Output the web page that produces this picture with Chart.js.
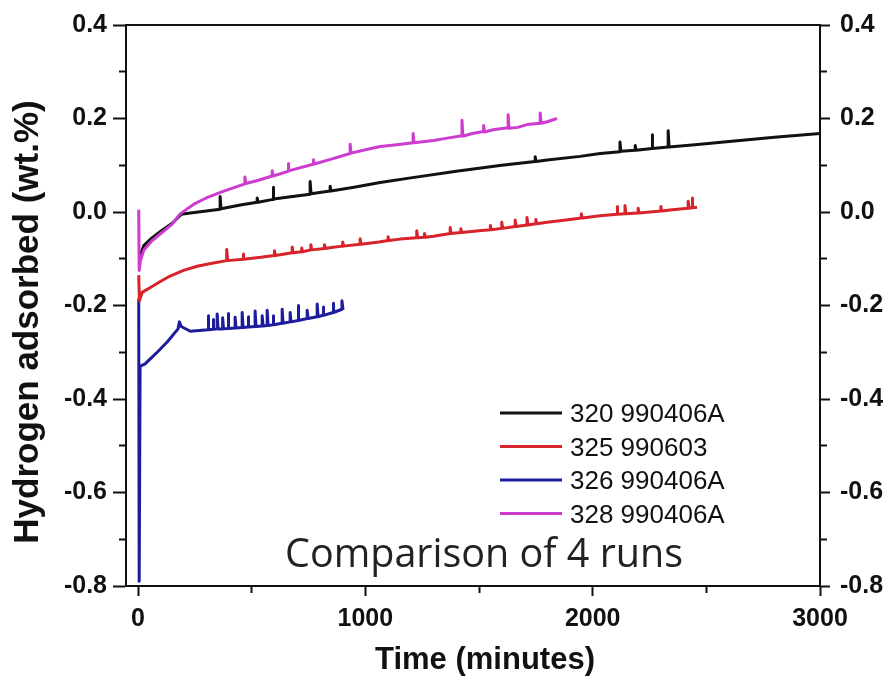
<!DOCTYPE html>
<html>
<head>
<meta charset="utf-8">
<script src="https://cdn.jsdelivr.net/npm/chart.js@4.4.1/dist/chart.umd.min.js"></script>
<style>
  html, body { margin: 0; padding: 0; background: #fff; }
  #wrap { width: 889px; height: 681px; }
</style>
</head>
<body>
<div id="wrap"><canvas id="c" width="889" height="681"></canvas></div>
<script>
/* Hydrogen adsorbed vs time, 4 runs */

// axis ticks
const xTicks  = [0, 500, 1000, 1500, 2000, 2500, 3000];
const xLabels = ['0', '', '1000', '', '2000', '', '3000'];
const yTicks  = [-0.8, -0.7, -0.6, -0.5, -0.4, -0.3, -0.2, -0.1, 0.0, 0.1, 0.2, 0.3, 0.4];
const yLabels = ['-0.8', '', '-0.6', '', '-0.4', '', '-0.2', '', '0.0', '', '0.2', '', '0.4'];

const seriesNames = ['320 990406A', '325 990603', '326 990406A', '328 990406A'];

// [time (min), wt.%] — 320 990406A (black)
const run320 = [
  [10, -0.092], [25, -0.072], [60, -0.056], [100, -0.041], [150, -0.024], [190, -0.005], [230, -0.002], [300, 0.002],
  [361, 0.006], [361, 0.033], [365, 0.007], [450, 0.015],
  [524, 0.021], [524, 0.030], [528, 0.021],
  [594, 0.027], [594, 0.053], [598, 0.028], [680, 0.033],
  [757, 0.038], [757, 0.065], [761, 0.039],
  [845, 0.045], [845, 0.055], [849, 0.045],
  [950, 0.053], [1065, 0.063], [1200, 0.073], [1400, 0.087], [1600, 0.100],
  [1747, 0.108], [1747, 0.118], [1751, 0.108], [1800, 0.111], [1945, 0.119], [2033, 0.125],
  [2120, 0.129], [2120, 0.150], [2124, 0.130],
  [2187, 0.132], [2187, 0.142], [2191, 0.132],
  [2261, 0.136], [2261, 0.165], [2265, 0.136],
  [2332, 0.139], [2332, 0.174], [2336, 0.139],
  [2450, 0.144], [2600, 0.151], [2800, 0.160], [3000, 0.168]
];

// 325 990603 (red)
const run325 = [
  [3, -0.135], [6, -0.190], [18, -0.172], [60, -0.160], [100, -0.148], [141, -0.137], [200, -0.125], [260, -0.116], [320, -0.110],
  [390, -0.104], [390, -0.080], [394, -0.104],
  [462, -0.101], [462, -0.090], [466, -0.101], [540, -0.097],
  [600, -0.093], [600, -0.083], [604, -0.093],
  [678, -0.087], [678, -0.075], [682, -0.087],
  [720, -0.085], [720, -0.077], [724, -0.085],
  [760, -0.081], [760, -0.070], [764, -0.081],
  [820, -0.078], [820, -0.070], [824, -0.078], [850, -0.076],
  [900, -0.073], [900, -0.064], [904, -0.073],
  [977, -0.069], [977, -0.057], [981, -0.069], [1060, -0.064],
  [1100, -0.061], [1100, -0.053], [1104, -0.061], [1153, -0.058],
  [1226, -0.055], [1226, -0.040], [1230, -0.055],
  [1260, -0.054], [1260, -0.046], [1264, -0.054], [1300, -0.052],
  [1373, -0.046], [1373, -0.033], [1377, -0.046],
  [1420, -0.044], [1420, -0.036], [1424, -0.044], [1500, -0.040],
  [1550, -0.038], [1550, -0.029], [1554, -0.038],
  [1600, -0.035], [1600, -0.022], [1604, -0.035],
  [1659, -0.031], [1659, -0.017], [1663, -0.031],
  [1711, -0.028], [1711, -0.012], [1715, -0.028],
  [1750, -0.025], [1750, -0.016], [1754, -0.025], [1800, -0.022], [1900, -0.016],
  [1950, -0.013], [1950, -0.004], [1954, -0.013], [2033, -0.008],
  [2107, -0.005], [2107, 0.012], [2111, -0.005],
  [2142, -0.004], [2142, 0.014], [2146, -0.004],
  [2200, -0.002], [2200, 0.008], [2204, -0.002], [2253, 0.000],
  [2300, 0.002], [2300, 0.012], [2304, 0.002], [2350, 0.005],
  [2420, 0.008], [2420, 0.023], [2424, 0.008],
  [2437, 0.009], [2437, 0.030], [2441, 0.009], [2459, 0.010]
];

// 326 990406A (blue)
const run326 = [
  [3, -0.185], [5, -0.790], [9, -0.330], [31, -0.325], [80, -0.302], [130, -0.277], [176, -0.250], [182, -0.235], [190, -0.245], [230, -0.255],
  [308, -0.252], [308, -0.222], [312, -0.252],
  [330, -0.251], [330, -0.230], [334, -0.251],
  [348, -0.250], [348, -0.218], [352, -0.250],
  [372, -0.250], [372, -0.226], [376, -0.250],
  [396, -0.249], [396, -0.217], [400, -0.249],
  [427, -0.248], [427, -0.225], [431, -0.248],
  [458, -0.247], [458, -0.215], [462, -0.247],
  [484, -0.246], [484, -0.224], [488, -0.246],
  [515, -0.245], [515, -0.212], [519, -0.245],
  [546, -0.244], [546, -0.222], [550, -0.244],
  [568, -0.243], [568, -0.210], [572, -0.243],
  [594, -0.241], [594, -0.222], [598, -0.241],
  [634, -0.238], [634, -0.208], [638, -0.238],
  [669, -0.235], [669, -0.215], [673, -0.235],
  [704, -0.232], [704, -0.200], [708, -0.232],
  [744, -0.228], [744, -0.210], [748, -0.228],
  [788, -0.224], [788, -0.197], [792, -0.224],
  [814, -0.221], [814, -0.203], [818, -0.221],
  [858, -0.215], [858, -0.195], [862, -0.215],
  [897, -0.208], [897, -0.190], [901, -0.207], [905, -0.205]
];

// 328 990406A (magenta)
const run328 = [
  [3, 0.005], [5, -0.125], [10, -0.105], [25, -0.082], [60, -0.062], [100, -0.046], [150, -0.026], [185, -0.004],
  [250, 0.018], [300, 0.030], [374, 0.044],
  [470, 0.060], [470, 0.075], [474, 0.061], [530, 0.068],
  [590, 0.077], [590, 0.088], [594, 0.077],
  [660, 0.087], [660, 0.104], [664, 0.088],
  [770, 0.102], [770, 0.112], [774, 0.102], [850, 0.113],
  [933, 0.125], [933, 0.145], [937, 0.126], [1000, 0.133], [1065, 0.140], [1139, 0.144],
  [1210, 0.148], [1210, 0.168], [1214, 0.148], [1300, 0.153], [1360, 0.158],
  [1425, 0.163], [1425, 0.196], [1429, 0.162], [1470, 0.168],
  [1520, 0.172], [1520, 0.185], [1524, 0.171], [1562, 0.176],
  [1628, 0.180], [1628, 0.208], [1632, 0.179], [1670, 0.181], [1711, 0.187],
  [1769, 0.190], [1769, 0.212], [1773, 0.190], [1800, 0.193], [1843, 0.200]
];

const colors = ['#111111', '#d8232a', '#1c1c9c', '#cc3ccf'];
const FONT = "'Liberation Sans', Arial, sans-serif";
const INK = '#111';

function pts(rows) { return rows.map(r => ({ x: r[0], y: r[1] })); }

/* titles, legend and the in-plot note, drawn on top of the chart */
const overlay = {
  id: 'overlay',
  afterDraw(chart) {
    const ctx = chart.ctx;
    ctx.save();
    ctx.fillStyle = INK;

    // axis titles
    ctx.font = 'bold 31px ' + FONT;
    ctx.textAlign = 'center';
    ctx.textBaseline = 'middle';
    ctx.fillText('Time (minutes)', 485, 660);
    ctx.save();
    ctx.translate(28, 322);
    ctx.rotate(-Math.PI / 2);
    ctx.font = 'bold 35px ' + FONT;
    ctx.fillText('Hydrogen adsorbed (wt.%)', 0, 0);
    ctx.restore();

    // legend
    ctx.font = '26px ' + FONT;
    ctx.textAlign = 'left';
    chart.data.datasets.forEach((ds, i) => {
      const y = 413 + i * 33.5;
      ctx.strokeStyle = ds.borderColor;
      ctx.lineWidth = 3;
      ctx.beginPath();
      ctx.moveTo(500, y);
      ctx.lineTo(562, y);
      ctx.stroke();
      ctx.fillStyle = INK;
      ctx.fillText(ds.label, 570, y + 2);
    });

    // note, sized to its width in the figure
    const note = 'Comparison of 4 runs';
    ctx.font = '40px "Open Sans", sans-serif';
    const w = ctx.measureText(note).width;
    ctx.font = (40 * 398 / w).toFixed(1) + 'px "Open Sans", sans-serif';
    ctx.fillStyle = '#222';
    ctx.textBaseline = 'alphabetic';
    ctx.fillText(note, 285, 567);
    ctx.restore();
  }
};

const tickFont = { family: FONT, size: 25, weight: 'bold' };

function yAxis(position, tickLength, padding, width, minorDash, dashOffset) {
  return {
    type: 'linear',
    position: position,
    min: -0.8,
    max: 0.4,
    afterBuildTicks: s => { s.ticks = yTicks.map(v => ({ value: v })); },
    afterFit: s => { s.width = width; },
    ticks: {
      autoSkip: false,
      padding: padding,
      color: INK,
      font: tickFont,
      callback: (v, i) => yLabels[i]
    },
    grid: {
      drawOnChartArea: false,
      drawTicks: true,
      tickLength: tickLength,
      tickWidth: 2,
      tickColor: INK,
      tickBorderDash: c => (yLabels[c.index] ? [] : minorDash),
      tickBorderDashOffset: c => (yLabels[c.index] ? 0 : dashOffset)
    },
    border: { display: true, color: INK, width: 2 }
  };
}

new Chart(document.getElementById('c'), {
  type: 'line',
  data: {
    datasets: [
      { label: seriesNames[0], data: pts(run320), borderColor: colors[0], order: 1 },
      { label: seriesNames[1], data: pts(run325), borderColor: colors[1], order: 2 },
      { label: seriesNames[2], data: pts(run326), borderColor: colors[2], order: 3 },
      { label: seriesNames[3], data: pts(run328), borderColor: colors[3], order: 0 }
    ]
  },
  options: {
    responsive: false,
    animation: false,
    layout: { padding: 0 },
    datasets: {
      line: { borderWidth: 3, pointRadius: 0, tension: 0, fill: false, borderJoinStyle: 'round' }
    },
    plugins: {
      legend: { display: false },
      tooltip: { enabled: false }
    },
    scales: {
      x: {
        type: 'linear',
        position: 'bottom',
        min: -53,
        max: 3000,
        afterBuildTicks: s => { s.ticks = xTicks.map(v => ({ value: v })); },
        afterFit: s => { s.height = 95; },
        ticks: {
          autoSkip: false,
          maxRotation: 0,
          padding: 8,
          color: INK,
          font: tickFont,
          callback: (v, i) => xLabels[i]
        },
        grid: {
          drawOnChartArea: false,
          drawTicks: true,
          tickLength: 10,
          tickWidth: 2,
          tickColor: INK,
          tickBorderDash: c => (xLabels[c.index] ? [] : [6, 20])
        },
        border: { display: true, color: INK, width: 2 }
      },
      xTop: {
        type: 'linear',
        position: 'top',
        min: -53,
        max: 3000,
        afterFit: s => { s.height = 23; },
        ticks: { display: false },
        grid: { drawOnChartArea: false, drawTicks: false },
        border: { display: true, color: INK, width: 2 }
      },
      y: yAxis('left', 13, 6, 126, [7, 6], 7),
      yRight: yAxis('right', 10, 10, 69, [6, 20], 0)
    }
  },
  plugins: [overlay]
});
</script>
</body>
</html>
